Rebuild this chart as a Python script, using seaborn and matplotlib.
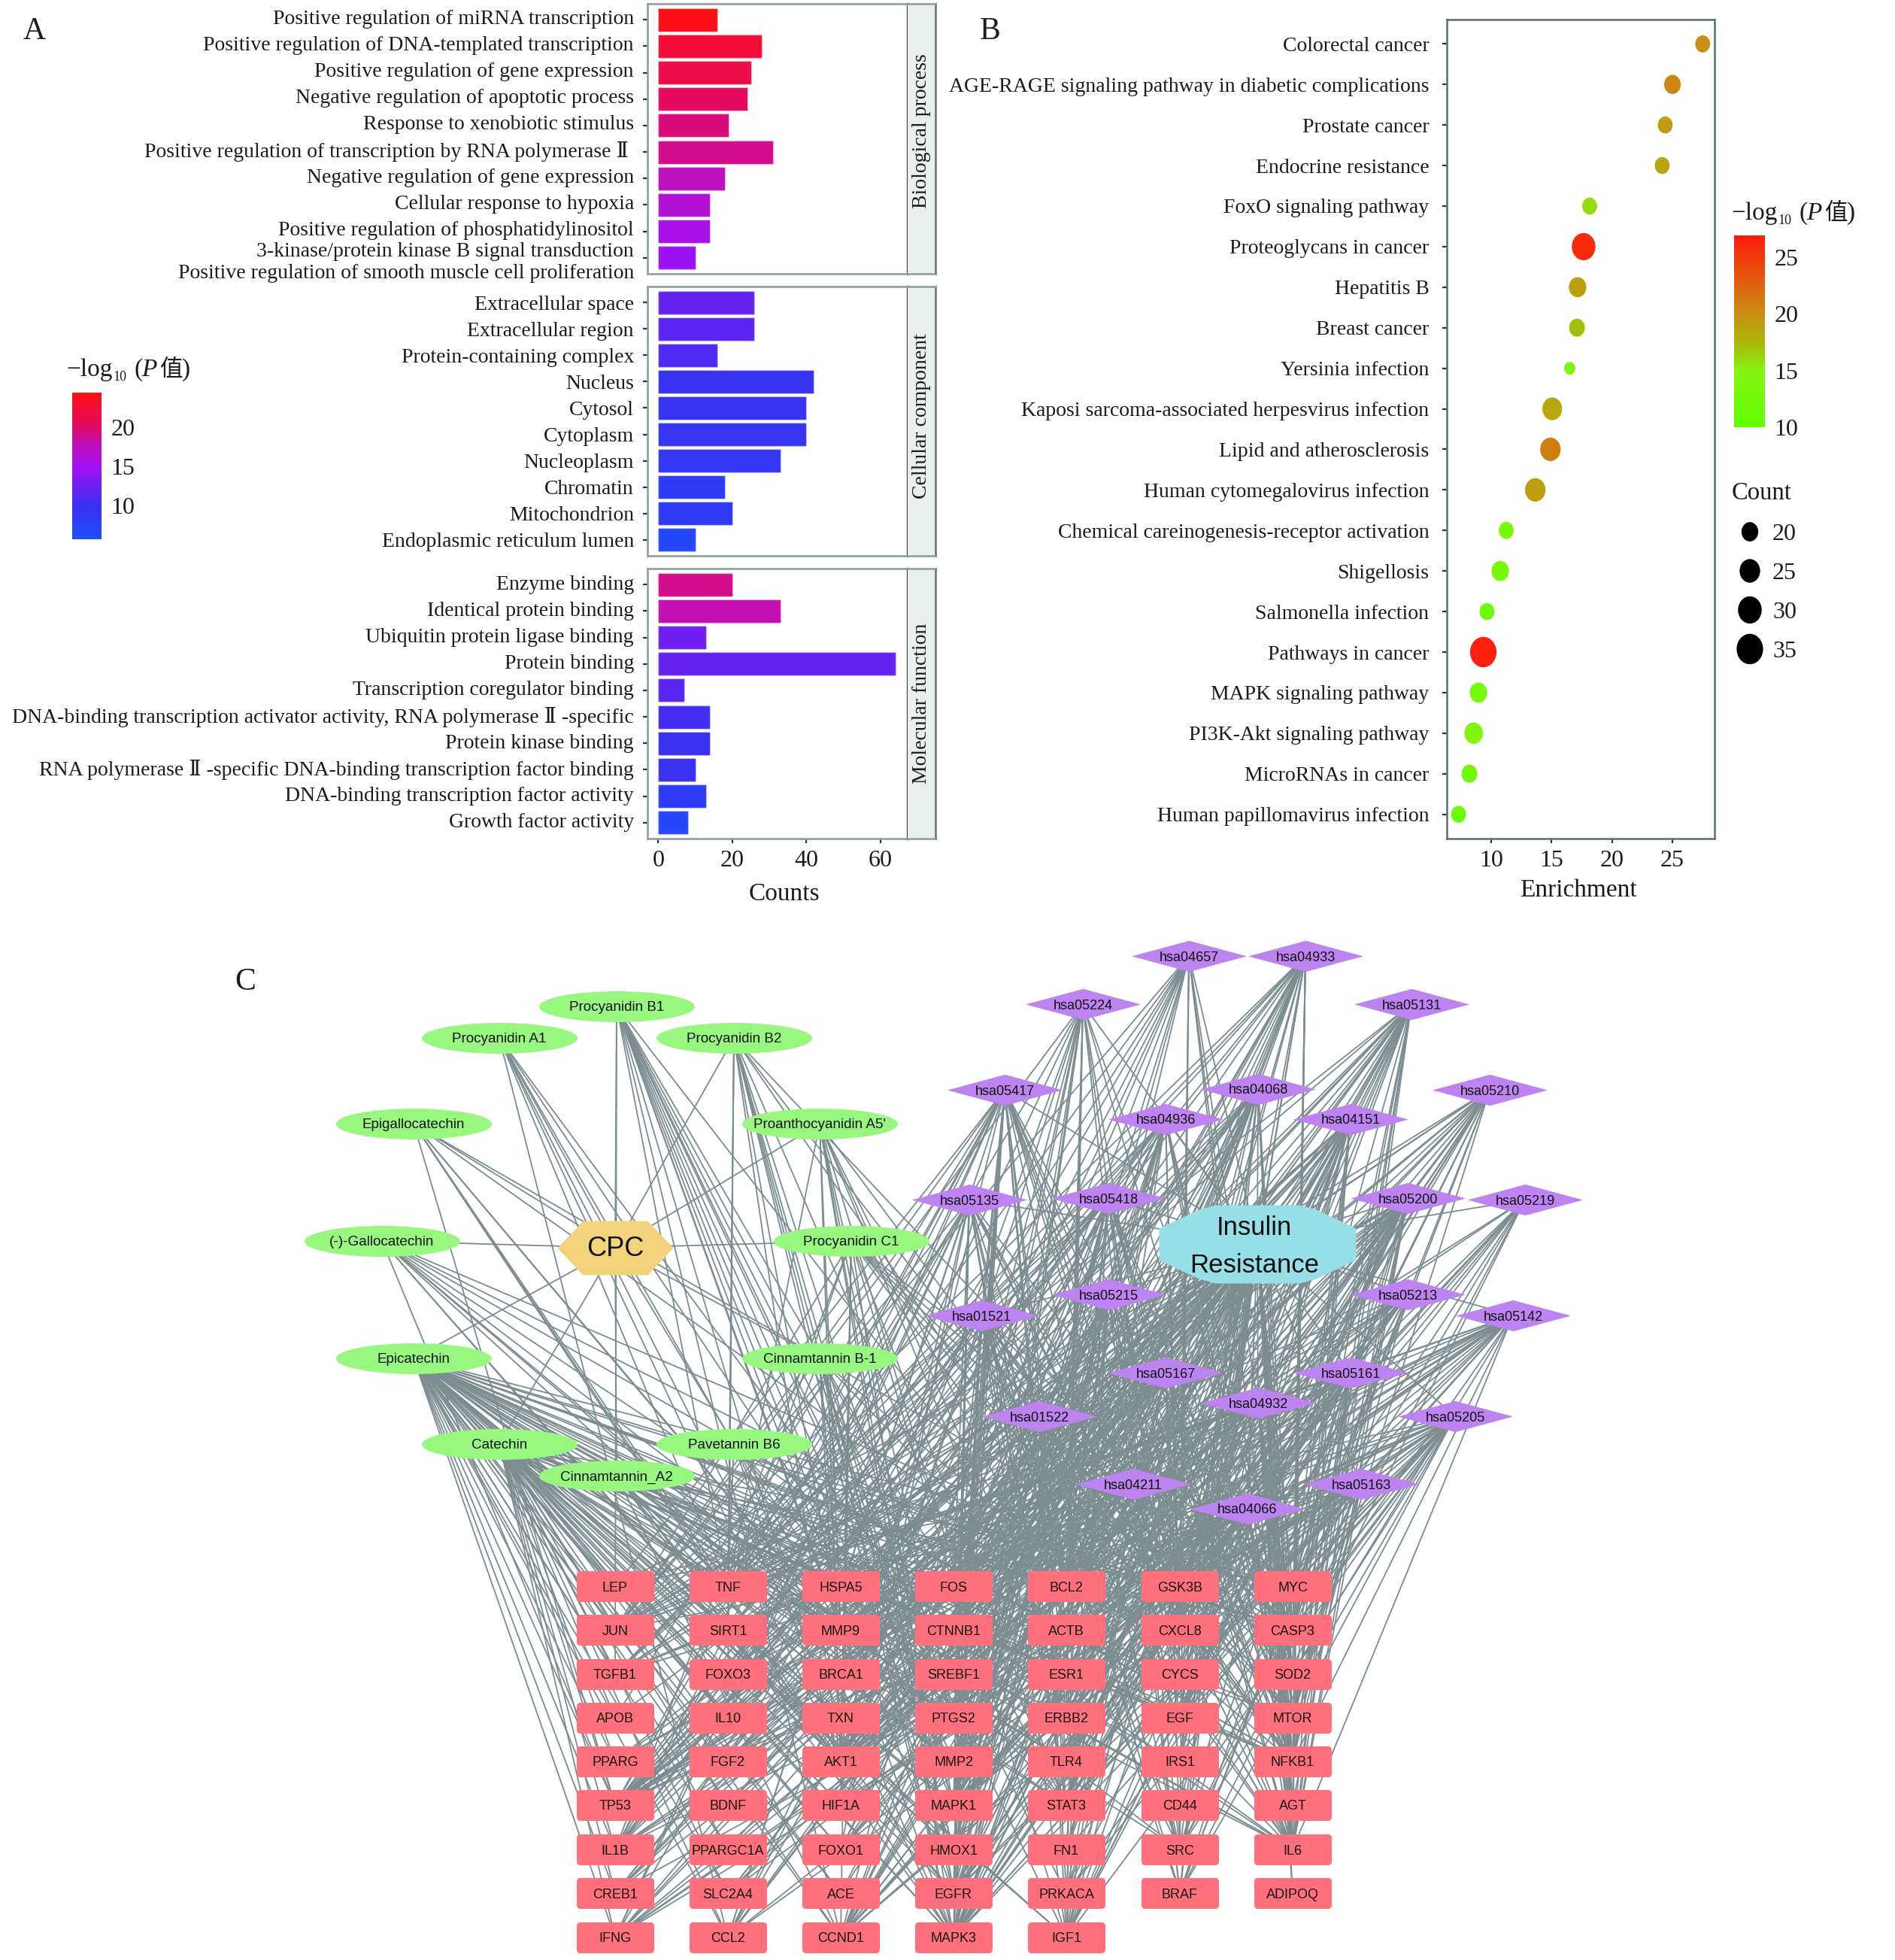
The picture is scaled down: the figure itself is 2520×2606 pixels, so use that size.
import matplotlib
matplotlib.use("Agg")
import matplotlib.pyplot as plt
from matplotlib.cm import ScalarMappable
from matplotlib.colors import LinearSegmentedColormap, Normalize
from matplotlib.patches import FancyBboxPatch
from matplotlib.path import Path
from matplotlib.transforms import Affine2D, ScaledTranslation
import numpy as np
import pandas as pd
import seaborn as sns

W, H = 2520, 2606

# panel A
bp_terms = ["Positive regulation of miRNA transcription", "Positive regulation of DNA-templated transcription",
            "Positive regulation of gene expression", "Negative regulation of apoptotic process",
            "Response to xenobiotic stimulus", "Positive regulation of transcription by RNA polymerase Ⅱ ",
            "Negative regulation of gene expression", "Cellular response to hypoxia",
            "Positive regulation of phosphatidylinositol\n3-kinase/protein kinase B signal transduction",
            "Positive regulation of smooth muscle cell proliferation"]
bp_counts = [16, 28, 25, 24, 19, 31, 18, 14, 14, 10]
bp_logp = [24, 22.5, 21.5, 20.5, 19.5, 19, 17.5, 16.5, 15.5, 14.5]
cc_terms = ["Extracellular space", "Extracellular region", "Protein-containing complex", "Nucleus", "Cytosol",
            "Cytoplasm", "Nucleoplasm", "Chromatin", "Mitochondrion", "Endoplasmic reticulum lumen"]
cc_counts = [26, 26, 16, 42, 40, 40, 33, 18, 20, 10]
cc_logp = [12, 11.5, 11, 10, 9.5, 9.5, 9, 8.5, 8.5, 7]
mf_terms = ["Enzyme binding", "Identical protein binding", "Ubiquitin protein ligase binding", "Protein binding",
            "Transcription coregulator binding", "DNA-binding transcription activator activity, RNA polymerase Ⅱ -specific",
            "Protein kinase binding", "RNA polymerase Ⅱ -specific DNA-binding transcription factor binding",
            "DNA-binding transcription factor activity", "Growth factor activity"]
mf_counts = [20, 33, 13, 64, 7, 14, 14, 10, 13, 8]
mf_logp = [19, 18, 12.5, 12, 11.5, 10.5, 10, 10, 8.5, 7]
strip_names = ["Biological process", "Cellular component", "Molecular function"]

# panel B
kegg_terms = ["Colorectal cancer", "AGE-RAGE signaling pathway in diabetic complications", "Prostate cancer",
              "Endocrine resistance", "FoxO signaling pathway", "Proteoglycans in cancer", "Hepatitis B",
              "Breast cancer", "Yersinia infection", "Kaposi sarcoma-associated herpesvirus infection",
              "Lipid and atherosclerosis", "Human cytomegalovirus infection",
              "Chemical careinogenesis-receptor activation", "Shigellosis", "Salmonella infection",
              "Pathways in cancer", "MAPK signaling pathway", "PI3K-Akt signaling pathway", "MicroRNAs in cancer",
              "Human papillomavirus infection"]
kegg_enrich = [27.5, 25.0, 24.4, 24.15, 18.15, 17.65, 17.15, 17.1, 16.5, 15.05, 14.9, 13.65, 11.25, 10.75, 9.65,
               9.35, 8.95, 8.55, 8.2, 7.3]
kegg_count = [18, 20, 18, 18, 18, 30, 21, 19, 14.6, 24, 25, 25, 18, 21, 18, 36, 21, 22.5, 19, 18]
kegg_logp = [20, 20.5, 19, 18.5, 16, 26, 19, 17, 14, 18.5, 21, 19, 13, 13, 12, 26.5, 13, 14, 12, 11]
count_levels = [20, 25, 30, 35]

# panel C, node places in pixels
compounds = ["Procyanidin B1", "Procyanidin A1", "Procyanidin B2", "Epigallocatechin", "Proanthocyanidin A5'",
             "(-)-Gallocatechin", "Procyanidin C1", "Epicatechin", "Cinnamtannin B-1", "Catechin", "Pavetannin B6",
             "Cinnamtannin_A2"]
compound_x = [820, 664, 976, 550, 1090, 508, 1132, 550, 1090, 664, 976, 820]
compound_y = [1338, 1380, 1380, 1494, 1494, 1650, 1650, 1806, 1806, 1920, 1920, 1962]
pathways = ["hsa04657", "hsa04933", "hsa05224", "hsa05131", "hsa05417", "hsa04068", "hsa05210", "hsa04936",
            "hsa04151", "hsa05135", "hsa05418", "hsa05200", "hsa05219", "hsa05215", "hsa05213", "hsa01521",
            "hsa05142", "hsa05167", "hsa05161", "hsa04932", "hsa01522", "hsa05205", "hsa04211", "hsa05163",
            "hsa04066"]
pathway_x = [1581, 1736, 1440, 1877, 1336, 1673, 1981, 1550, 1796, 1289, 1474, 1872, 2028, 1474, 1872, 1305, 2012,
             1550, 1796, 1673, 1382, 1935, 1507, 1810, 1659]
pathway_y = [1271, 1271, 1335, 1335, 1449, 1448, 1449, 1488, 1488, 1595, 1593, 1593, 1595, 1721, 1721, 1749, 1749,
             1825, 1825, 1865, 1883, 1883, 1973, 1973, 2006]
gene_rows = ["LEP TNF HSPA5 FOS BCL2 GSK3B MYC", "JUN SIRT1 MMP9 CTNNB1 ACTB CXCL8 CASP3",
             "TGFB1 FOXO3 BRCA1 SREBF1 ESR1 CYCS SOD2", "APOB IL10 TXN PTGS2 ERBB2 EGF MTOR",
             "PPARG FGF2 AKT1 MMP2 TLR4 IRS1 NFKB1", "TP53 BDNF HIF1A MAPK1 STAT3 CD44 AGT",
             "IL1B PPARGC1A FOXO1 HMOX1 FN1 SRC IL6", "CREB1 SLC2A4 ACE EGFR PRKACA BRAF ADIPOQ",
             "IFNG CCL2 CCND1 MAPK3 IGF1"]
gene_col_x = [818, 968, 1118, 1268, 1418, 1569, 1719]
gene_row_y = [2109, 2167, 2226, 2284, 2342, 2400, 2459, 2517, 2576]

# which genes each node is tied to (the dense part can only be estimated)
compound_genes = {
    "Procyanidin B1": "TNF FOS BCL2 CTNNB1 TGFB1 PTGS2 AKT1 MAPK1 HMOX1 EGFR PRKACA CCND1 MAPK3 IGF1 MMP2 MMP9",
    "Procyanidin A1": "TNF AKT1 MMP9 PTGS2 STAT3 MAPK3 CCL2",
    "Procyanidin B2": "TNF SIRT1 MMP9 FOXO3 PTGS2 AKT1 NFKB1 HMOX1 MAPK1 MAPK3 EGFR STAT3 IL6 CASP3",
    "Epigallocatechin": "TNF BCL2 AKT1 MMP2 MMP9 CASP3 TP53 MAPK3",
    "Proanthocyanidin A5'": "TNF MMP9 ESR1 PTGS2 ERBB2 EGFR SRC MAPK1 MAPK3 IGF1 AKT1 NFKB1",
    "(-)-Gallocatechin": "BCL2 MMP2 MMP9 TP53 IL6 AKT1 EGFR SRC CASP3 NFKB1 PTGS2",
    "Procyanidin C1": "TNF FOS MYC JUN CASP3 SOD2 MTOR AKT1 NFKB1 STAT3 HIF1A EGFR IL1B IL6 CCND1",
    "Epicatechin": "LEP TNF HSPA5 FOS BCL2 GSK3B MYC JUN SIRT1 MMP9 CTNNB1 CXCL8 CASP3 TGFB1 FOXO3 BRCA1 SREBF1 ESR1 SOD2 "
                   "APOB IL10 TXN PTGS2 ERBB2 EGF MTOR PPARG FGF2 AKT1 MMP2 TLR4 IRS1 NFKB1 TP53 BDNF HIF1A MAPK1 STAT3 "
                   "IL1B PPARGC1A FOXO1 HMOX1 SRC IL6 CREB1 SLC2A4 ACE EGFR IFNG CCL2 CCND1 MAPK3 IGF1",
    "Cinnamtannin B-1": "TNF MMP9 PTGS2 AKT1 NFKB1 MAPK1 MAPK3 IL6 HMOX1 STAT3",
    "Catechin": "LEP TNF FOS BCL2 MYC JUN SIRT1 MMP9 CASP3 TGFB1 FOXO3 ESR1 CYCS APOB IL10 PTGS2 EGF MTOR PPARG AKT1 "
                "MMP2 NFKB1 TP53 BDNF HIF1A MAPK1 STAT3 IL1B PPARGC1A FOXO1 HMOX1 IL6 CREB1 SLC2A4 ACE IFNG CCL2 CCND1 "
                "MAPK3 IGF1",
    "Pavetannin B6": "TNF AKT1 MMP2 PTGS2 NFKB1 MAPK3 IL6 CASP3 STAT3",
    "Cinnamtannin_A2": "TNF GSK3B MMP9 AKT1 PTGS2 TLR4 NFKB1 MAPK1 HMOX1 EGFR IL6 MAPK3 CCND1",
}
pathway_genes = {
    "hsa04657": "FOS TNF GSK3B JUN MMP9 CXCL8 CASP3 PTGS2 AKT1 NFKB1 MAPK1 IL1B IL6 SRC CCL2 MAPK3 IFNG",
    "hsa04933": "FOS TNF BCL2 JUN MMP2 MMP9 CXCL8 CASP3 TGFB1 FOXO1 EGF AKT1 NFKB1 TP53 MAPK1 STAT3 IL1B IL6 HMOX1 CCND1 CCL2 MAPK3 FN1 SOD2 AGT",
    "hsa05224": "FOS BCL2 GSK3B MYC JUN CTNNB1 BRCA1 ESR1 EGF ERBB2 AKT1 TP53 MAPK1 EGFR CCND1 MAPK3 IGF1 MTOR FGF2 BRAF",
    "hsa05131": "FOS TNF BCL2 MYC JUN ACTB CXCL8 CTNNB1 CASP3 GSK3B AKT1 NFKB1 MTOR TP53 MAPK1 TLR4 STAT3 IL1B IL6 SRC EGFR MAPK3 CCL2 IFNG IL10",
    "hsa05417": "FOS TNF BCL2 JUN CTNNB1 CXCL8 CASP3 GSK3B ACTB CYCS IL10 PTGS2 AKT1 MMP2 NFKB1 TLR4 TP53 MAPK1 STAT3 IL1B IL6 SRC HMOX1 IFNG MAPK3 CCL2 MTOR APOB LEP",
    "hsa04068": "BCL2 SIRT1 FOXO3 CASP3 EGF TGFB1 AKT1 IRS1 PTGS2 HIF1A TP53 MAPK1 STAT3 IL6 CREB1 BRAF EGFR CCND1 IGF1 MAPK3 MMP9 MMP2 IL1B ACE MTOR",
    "hsa05210": "FOS MYC JUN BCL2 GSK3B CTNNB1 MMP9 EGF ERBB2 AKT1 TP53 MAPK1 STAT3 EGFR BRAF CCND1 MAPK3 TGFB1 MTOR IGF1",
    "hsa04936": "TNF BCL2 ACTB CXCL8 CASP3 CYCS SOD2 TGFB1 PTGS2 AKT1 NFKB1 MMP2 MMP9 MAPK1 TP53 IL1B IL6 HIF1A MAPK3 SIRT1 TLR4 HMOX1",
    "hsa04151": "BCL2 GSK3B MYC CASP3 HSPA5 BRCA1 FOXO3 EGF ERBB2 FGF2 MTOR AKT1 IRS1 NFKB1 TLR4 TP53 MAPK1 CD44 FN1 IL6 BDNF HIF1A SLC2A4 EGFR CREB1 PRKACA CCND1 IGF1 MAPK3",
    "hsa05135": "FOS TNF BCL2 JUN ACTB CXCL8 CASP3 GSK3B AKT1 NFKB1 TLR4 IL10 MAPK1 STAT3 IL1B IL6 SRC EGFR FOXO1 MAPK3 CCL2 IFNG",
    "hsa05418": "FOS TNF BCL2 JUN ACTB CTNNB1 CXCL8 CYCS CASP3 TGFB1 SOD2 HMOX1 AKT1 MMP2 NFKB1 MAPK1 IL1B IL6 SRC MAPK3 CCL2 SIRT1 FN1 AGT",
    "hsa05200": "TNF FOS BCL2 GSK3B MYC JUN MMP9 CTNNB1 CXCL8 CASP3 TGFB1 BRCA1 ESR1 CYCS FOXO1 PTGS2 ERBB2 EGF MTOR PPARG FGF2 AKT1 MMP2 NFKB1 TP53 HIF1A MAPK1 STAT3 IL6 EGFR PRKACA BRAF CCND1 MAPK3 IGF1 AGT",
    "hsa05219": "MYC MMP2 MMP9 EGF ERBB2 TP53 MAPK1 EGFR SRC BRAF CCND1 MAPK3",
    "hsa05215": "BCL2 GSK3B CTNNB1 CASP3 FOS JUN EGF ERBB2 MTOR AKT1 NFKB1 TP53 MAPK1 CREB1 EGFR BRAF CCND1 MAPK3 IGF1 PRKACA FOXO1",
    "hsa05213": "MYC BCL2 FOS JUN GSK3B CTNNB1 EGF ERBB2 AKT1 MMP2 FOXO3 ESR1 MTOR TP53 MAPK1 BRAF EGFR CCND1 MAPK3 IGF1 FGF2 CASP3",
    "hsa01521": "BCL2 GSK3B MYC ERBB2 EGF MTOR FGF2 AKT1 NFKB1 STAT3 MAPK1 IL6 SRC BRAF EGFR FOXO3 IGF1 MAPK3 TP53 CASP3",
    "hsa05142": "FOS TNF BCL2 JUN CASP3 CXCL8 ACTB IL10 PTGS2 AKT1 NFKB1 TLR4 TP53 MAPK1 IL1B IL6 SOD2 MAPK3 IFNG CCL2 TGFB1 MMP9 STAT3",
    "hsa05167": "FOS TNF BCL2 GSK3B MYC JUN CTNNB1 CASP3 CYCS MTOR AKT1 NFKB1 TP53 MAPK1 STAT3 HIF1A IL6 SRC CCND1 MAPK3 CCL2 PTGS2 TLR4 IFNG FGF2 CREB1 PRKACA",
    "hsa05161": "FOS TNF BCL2 MYC JUN CASP3 CYCS TGFB1 MTOR AKT1 NFKB1 TLR4 TP53 MAPK1 STAT3 IL6 SRC EGFR CCND1 MAPK3 IFNG CXCL8 IL1B IGF1",
    "hsa04932": "TNF GSK3B JUN CASP3 CYCS TGFB1 SREBF1 MTOR PPARG AKT1 NFKB1 IRS1 TLR4 TP53 IL1B IL6 ADIPOQ MAPK1 LEP MAPK3 IFNG FOXO1 SOD2 AGT SLC2A4",
    "hsa01522": "BCL2 GSK3B MYC ESR1 CTNNB1 ERBB2 EGF PRKACA MTOR AKT1 NFKB1 FGF2 TP53 MAPK1 SRC CCND1 MAPK3 EGFR BRAF IGF1 IL6 CASP3",
    "hsa05205": "MYC BCL2 TNF CTNNB1 CASP3 TGFB1 ESR1 ERBB2 MMP2 MMP9 EGF FGF2 AKT1 MTOR TP53 HIF1A MAPK1 CD44 FN1 STAT3 SRC EGFR PRKACA BRAF CCND1 MAPK3 IGF1",
    "hsa04211": "SIRT1 FOXO3 FOXO1 MTOR IRS1 AKT1 TP53 NFKB1 IL6 SOD2 CREB1 PPARGC1A SLC2A4 PPARG IGF1 MAPK3 CCND1 LEP",
    "hsa05163": "FOS TNF MYC JUN BCL2 CASP3 CYCS GSK3B CTNNB1 PTGS2 MTOR AKT1 NFKB1 TP53 MAPK1 STAT3 IL1B SRC CREB1 EGFR PRKACA IL6 CCND1 MAPK3 CCL2 IFNG",
    "hsa04066": "BCL2 MMP9 ERBB2 EGF MTOR AKT1 NFKB1 HIF1A MAPK1 STAT3 TLR4 IL6 HMOX1 EGFR IFNG MAPK3 IGF1 SLC2A4",
}

A_CMAP = LinearSegmentedColormap.from_list("go", [(0, "#1e50ff"), (0.23, "#3a30f0"), (0.495, "#a510f5"),
                                                  (0.65, "#c010b8"), (0.76, "#e00a6a"), (1, "#ff1010")])
A_NORM = Normalize(5.7, 24.4)
B_CMAP = LinearSegmentedColormap.from_list("kegg", [(0, "#60ff00"), (0.296, "#86f510"), (0.414, "#a4bf08"),
                                                    (0.592, "#c88e12"), (0.888, "#f03a0a"), (1, "#ff1a10")])
B_NORM = Normalize(10, 26.9)

sns.set_theme(style="white")
SERIF = ["Liberation Serif", "DejaVu Serif", "Noto Sans CJK SC"]
plt.rcParams["font.family"] = SERIF
INK = "#1c1c1c"
EDGE = "#7c8c90"
BORDER = "#8d9b9c"


def px_axes(l, t, r, b):
    return fig.add_axes([l / W, 1 - b / H, (r - l) / W, (b - t) / H])


def scale_path(path, w, h):
    return Affine2D().scale(w, h).transform_path(path)


def legend_title(x, y):
    ax_net.text(x, y, "−log", fontsize=24, va="center", color=INK)
    ax_net.text(x + 62, y + 10, "10", fontsize=13, va="center", color=INK)
    ax_net.text(x + 90, y, "(", fontsize=24, va="center", color=INK)
    ax_net.text(x + 100, y, "P", fontsize=24, va="center", style="italic", color=INK)
    ax_net.text(x + 124, y, "值", fontsize=22, va="center", color=INK)
    ax_net.text(x + 154, y, ")", fontsize=24, va="center", color=INK)


def colorbar(rect, cmap, norm, ticks):
    cax = px_axes(*rect)
    cb = fig.colorbar(ScalarMappable(norm=norm, cmap=cmap), cax=cax, ticks=ticks)
    cb.outline.set_visible(False)
    cax.tick_params(axis="y", direction="in", color="#ffffff80", length=6, width=1.2, left=True, right=True,
                    labelsize=23, labelcolor=INK, pad=9)
    return cb


fig = plt.figure(figsize=(W / 100, H / 100), dpi=100, facecolor="white")

# --- C first so the other panels sit on top of the overlay
ax_net = px_axes(0, 0, W, H)
ax_net.set_xlim(0, W)
ax_net.set_ylim(H, 0)
ax_net.axis("off")

gene_names, gene_x, gene_y = [], [], []
for r, row in enumerate(gene_rows):
    for c, name in enumerate(row.split()):
        gene_names.append(name)
        gene_x.append(gene_col_x[c])
        gene_y.append(gene_row_y[r])
gene_xy = dict(zip(gene_names, zip(gene_x, gene_y)))
comp_xy = dict(zip(compounds, zip(compound_x, compound_y)))
path_xy = dict(zip(pathways, zip(pathway_x, pathway_y)))
CPC_XY = (818, 1659)
IR_XY = (1672, 1654)

segments = []
for name, xy in comp_xy.items():
    segments.append((CPC_XY, xy))
    segments += [(xy, gene_xy[g]) for g in compound_genes[name].split()]
for name, xy in path_xy.items():
    segments.append((IR_XY, xy))
    segments += [(xy, gene_xy[g]) for g in pathway_genes[name].split()]
segments += [(IR_XY, xy) for xy in gene_xy.values()]

edge_df = pd.DataFrame(
    [{"edge": i, "x": p[0], "y": p[1]} for i, seg in enumerate(segments) for p in seg]
)
sns.lineplot(data=edge_df, x="x", y="y", units="edge", estimator=None, sort=False, color=EDGE, linewidth=1.3,
             ax=ax_net, legend=False, zorder=1)
ax_net.set_xlim(0, W)
ax_net.set_ylim(H, 0)
ax_net.axis("off")

ellipse = scale_path(Path.unit_circle(), 207, 41)
diamond = Path([(-76, 0), (0, -20.5), (76, 0), (0, 20.5), (-76, 0)], closed=True)
gene_box = FancyBboxPatch((-51.5, -20.5), 103, 41, boxstyle="round,pad=0,rounding_size=5").get_path()
hexagon = Path([(-77, 0), (-43, -36), (43, -36), (77, 0), (43, 36), (-43, 36), (-77, 0)], closed=True)
decagon = Path([(-131, -21), (-78, -46), (-56, -52), (56, -52), (78, -46), (131, -21), (131, 21), (78, 46),
                (56, 52), (-56, 52), (-78, 46), (-131, 21), (-131, -21)], closed=True)


def nodes(xs, ys, marker, width, color):
    sns.scatterplot(x=xs, y=ys, marker=marker, s=(width * 0.72) ** 2, color=color, linewidth=0, ax=ax_net,
                    legend=False, zorder=3)


nodes(compound_x, compound_y, ellipse, 207, "#98f77f")
nodes(pathway_x, pathway_y, diamond, 153, "#bd83f0")
nodes(gene_x, gene_y, gene_box, 103, "#ff707c")
nodes([CPC_XY[0]], [CPC_XY[1]], hexagon, 154, "#f3d27c")
nodes([IR_XY[0]], [IR_XY[1]], decagon, 262, "#97dfe6")
ax_net.set_xlim(0, W)
ax_net.set_ylim(H, 0)
ax_net.axis("off")

for names, xs, ys, size in [(compounds, compound_x, compound_y, 13.6), (pathways, pathway_x, pathway_y, 13),
                            (gene_names, gene_x, gene_y, 13)]:
    for name, x, y in zip(names, xs, ys):
        ax_net.text(x, y + 2, name, ha="center", va="center", fontsize=size, family="Liberation Sans",
                    color="#111111", zorder=5)
ax_net.text(CPC_XY[0], CPC_XY[1] + 1, "CPC", ha="center", va="center", fontsize=26, family="Liberation Sans",
            color="#111111", zorder=5)
ax_net.text(IR_XY[0] - 4, IR_XY[1] - 22, "Insulin", ha="center", va="center", fontsize=25, family="Liberation Sans",
            color="#111111", zorder=5)
ax_net.text(IR_XY[0] - 4, IR_XY[1] + 28, "Resistance", ha="center", va="center", fontsize=25,
            family="Liberation Sans", color="#111111", zorder=5)

for letter, x, y in [("A", 46, 42), ("B", 1317, 42), ("C", 326, 1306)]:
    ax_net.text(x, y, letter, ha="center", va="center", fontsize=30, color=INK)

# --- A
panels = [(5, 364, bp_terms, bp_counts, bp_logp), (381, 739, cc_terms, cc_counts, cc_logp),
          (756, 1115, mf_terms, mf_counts, mf_logp)]
strip_y = [0.528, 0.52, 0.5]
label_shift = [-4, 0, -3]
for i, (top, bottom, terms, counts, logp) in enumerate(panels):
    ax = px_axes(861, top, 1207, bottom)
    df = pd.DataFrame({"term": terms, "count": counts, "logp": logp})
    sns.barplot(data=df, y="term", x="count", hue="logp", palette=A_CMAP, hue_norm=A_NORM, dodge=False, legend=False,
                width=0.88, saturation=1, edgecolor=(1, 1, 1, 0.35), linewidth=1, ax=ax)
    ax.set_xlim(-2.9, 67.3)
    ax.set_ylim(9.6, -0.6)
    ax.set(xlabel="", ylabel="")
    ax.set_xticks([0, 20, 40, 60])
    ax.tick_params(axis="y", left=True, length=4, width=1.6, color="#333333", labelsize=20, labelcolor=INK, pad=9)
    if i == 2:
        ax.tick_params(axis="x", bottom=True, length=4, width=1.6, color="#333333", labelsize=23, labelcolor=INK, pad=7)
        ax.set_xlabel("Counts", fontsize=24, color=INK, labelpad=6)
        ax.xaxis.set_label_coords(0.525, -0.164)
    else:
        ax.tick_params(axis="x", bottom=False, labelbottom=False)
    for side in ["left", "top", "bottom"]:
        ax.spines[side].set_color(BORDER)
        ax.spines[side].set_linewidth(1.8)
    ax.spines["right"].set_color("#3d4a4c")
    ax.spines["right"].set_linewidth(2.4)
    labels = ax.get_yticklabels()
    for j, label in enumerate(labels):
        dy = label_shift[i]
        if i == 0 and j == 8:
            dy = 8
        if i == 0 and j == 9:
            dy = 18
        label.set_transform(label.get_transform() + ScaledTranslation(0, -dy / 100, fig.dpi_scale_trans))
    strip = px_axes(1207, top, 1244, bottom)
    strip.set_facecolor("#e8efed")
    strip.set_xticks([])
    strip.set_yticks([])
    for side in strip.spines.values():
        side.set_color(BORDER)
        side.set_linewidth(1.8)
    strip.spines["left"].set_visible(False)
    strip.spines["right"].set_color("#5f6e72")
    strip.text(0.5, strip_y[i], strip_names[i], rotation=90, ha="center", va="center", fontsize=20, color=INK,
               transform=strip.transAxes)

colorbar((96, 522, 135, 717), A_CMAP, A_NORM, [10, 15, 20])
legend_title(88, 492)

# --- B
ax_b = px_axes(1924, 26, 2280, 1115)
kegg = pd.DataFrame({"term": kegg_terms, "enrich": kegg_enrich, "count": kegg_count, "logp": kegg_logp})
oval = scale_path(Path.unit_circle(), 1, 1.15)
sns.scatterplot(data=kegg, x="enrich", y="term", hue="logp", palette=B_CMAP, hue_norm=B_NORM, size="count",
                sizes=(60, 849), size_norm=(12, 35), marker=oval, linewidth=0, legend=False, ax=ax_b)
ax_b.set_xlim(6.33, 28.48)
ax_b.set_ylim(19.6, -0.6)
ax_b.set_xticks([10, 15, 20, 25])
ax_b.tick_params(axis="y", left=True, length=4, width=1.6, color="#333333", labelsize=20, labelcolor=INK, pad=13)
ax_b.tick_params(axis="x", bottom=True, length=4, width=1.6, color="#333333", labelsize=23, labelcolor=INK, pad=7)
ax_b.set_ylabel("")
ax_b.set_xlabel("Enrichment", fontsize=24, color=INK)
ax_b.xaxis.set_label_coords(0.49, -0.0495)
for side in ax_b.spines.values():
    side.set_color("#5d6c70")
    side.set_linewidth(1.8)

colorbar((2306, 313, 2347, 568), B_CMAP, B_NORM, [10, 15, 20, 25])
legend_title(2302, 284)
ax_net.text(2303, 656, "Count", fontsize=23.5, va="center", color=INK)

ax_c = px_axes(2304, 680, 2350, 890)
sns.scatterplot(x=[0] * 4, y=count_levels, size=count_levels, sizes=(342, 849), size_norm=(20, 35), marker=oval,
                color="black", linewidth=0, legend=False, ax=ax_c)
ax_c.set_xlim(-1, 1)
ax_c.set_ylim(37.6, 17.4)
ax_c.patch.set_alpha(0)
ax_c.set_xticks([])
ax_c.set_yticks(count_levels)
ax_c.yaxis.tick_right()
ax_c.tick_params(axis="y", length=0, labelsize=23, labelcolor=INK, pad=5)
sns.despine(ax=ax_c, left=True, bottom=True, right=True, top=True)

fig.savefig("out.png", dpi=100)
